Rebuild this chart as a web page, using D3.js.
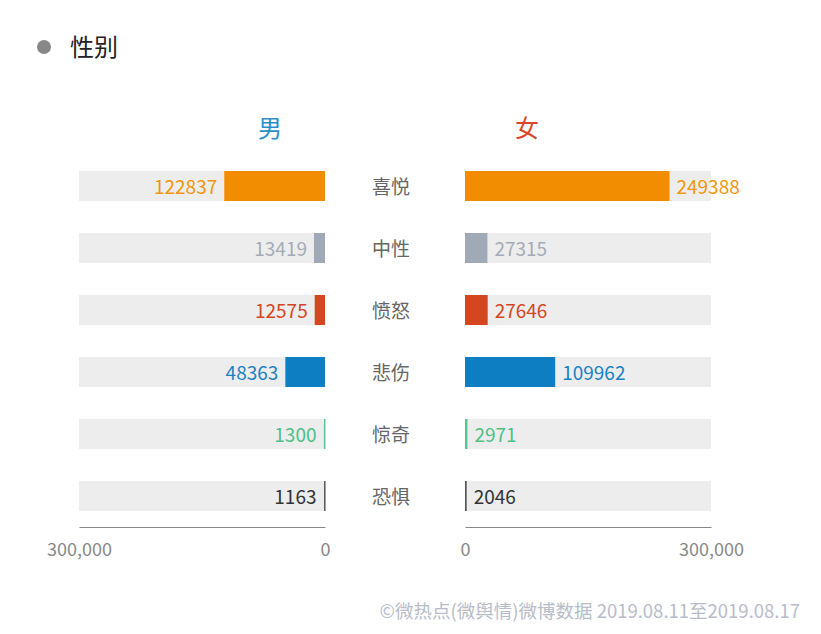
<!DOCTYPE html>
<html><head><meta charset="utf-8">
<script src="https://cdn.jsdelivr.net/npm/d3@7"></script>
<style>
body{margin:0;background:#fff;}
svg{display:block;font-family:"Noto Sans CJK SC","Microsoft YaHei",sans-serif;}
</style></head>
<body>
<script>
const categories = ["喜悦","中性","愤怒","悲伤","惊奇","恐惧"];
const maleValues = [122837,13419,12575,48363,1300,1163];
const femaleValues = [249388,27315,27646,109962,2971,2046];
const colors = ["#f28c00","#a0a9b6","#d4461f","#0e7ec2","#5cc392","#555555"];
const labelColors = ["#f0950f","#a5abb6","#d4461f","#1a82c2","#4fbf88","#333333"];
const tickValues = [0,300000];
const title = "性别";
const footer = "©微热点(微舆情)微博数据 2019.08.11至2019.08.17";

const W=821,H=634;
const svg=d3.select("body").append("svg").attr("width",W).attr("height",H);

svg.append("circle").attr("cx",44).attr("cy",47).attr("r",7).attr("fill","#888");
svg.append("text").attr("x",70).attr("y",56).attr("font-size",24).attr("fill","#222").text(title);

const xL=d3.scaleLinear().domain([0,300000]).range([325,79]);
const xR=d3.scaleLinear().domain([0,300000]).range([465,711]);
const y=d3.scaleBand().domain(categories).range([155,527]).paddingInner(0.516).paddingOuter(0.258);

svg.append("text").attr("x",270).attr("y",137).attr("text-anchor","middle").attr("font-size",24).attr("fill","#2b8fc8").text("男");
svg.append("text").attr("x",527).attr("y",137).attr("text-anchor","middle").attr("font-size",24).attr("fill","#d9472b").text("女");

// backgrounds
svg.selectAll(".bgL").data(categories).enter().append("rect")
 .attr("x",xL(300000)).attr("width",xL(0)-xL(300000)).attr("y",d=>y(d)).attr("height",y.bandwidth()).attr("fill","#ededed");
svg.selectAll(".bgR").data(categories).enter().append("rect")
 .attr("x",xR(0)).attr("width",xR(300000)-xR(0)).attr("y",d=>y(d)).attr("height",y.bandwidth()).attr("fill","#ededed");

svg.selectAll(".barL").data(maleValues).enter().append("rect")
 .attr("x",d=>xL(d)).attr("width",d=>Math.max(1.5,xL(0)-xL(d))).attr("y",(d,i)=>y(categories[i])).attr("height",y.bandwidth()).attr("fill",(d,i)=>colors[i]);
svg.selectAll(".barR").data(femaleValues).enter().append("rect")
 .attr("x",xR(0)).attr("width",d=>Math.max(1.5,xR(d)-xR(0))).attr("y",(d,i)=>y(categories[i])).attr("height",y.bandwidth()).attr("fill",(d,i)=>colors[i]);

svg.selectAll(".valL").data(maleValues).enter().append("text")
 .attr("x",d=>Math.min(xL(d),xL(0)-1.5)-7).attr("y",(d,i)=>y(categories[i])+y.bandwidth()/2+8)
 .attr("text-anchor","end").attr("font-size",19).attr("fill",(d,i)=>labelColors[i]).text(d=>d);
svg.selectAll(".valR").data(femaleValues).enter().append("text")
 .attr("x",d=>Math.max(xR(d),xR(0)+1.5)+7).attr("y",(d,i)=>y(categories[i])+y.bandwidth()/2+8)
 .attr("text-anchor","start").attr("font-size",19).attr("fill",(d,i)=>labelColors[i]).text(d=>d);

svg.selectAll(".cat").data(categories).enter().append("text")
 .attr("x",391).attr("y",d=>y(d)+y.bandwidth()/2+8).attr("text-anchor","middle").attr("font-size",19).attr("fill","#666").text(d=>d);

function styleAxis(g){
  g.select(".domain").attr("stroke","#888").attr("stroke-width",1.2);
  g.selectAll(".tick line").remove();
  g.selectAll(".tick text").attr("font-size",18).attr("fill","#888").attr("font-family","Noto Sans CJK SC, sans-serif").attr("dy","1.25em");
}
svg.append("g").attr("transform","translate(0,527)")
 .call(d3.axisBottom(xL).tickValues(tickValues).tickSize(0).tickSizeOuter(0).tickPadding(6).tickFormat(d3.format(",")))
 .call(styleAxis);
svg.append("g").attr("transform","translate(0,527)")
 .call(d3.axisBottom(xR).tickValues(tickValues).tickSize(0).tickSizeOuter(0).tickPadding(6).tickFormat(d3.format(",")))
 .call(styleAxis);

svg.append("text").attr("x",800).attr("y",618).attr("text-anchor","end").attr("font-size",18.5).attr("fill","#b8bcc8").text(footer);
</script>
</body></html>
